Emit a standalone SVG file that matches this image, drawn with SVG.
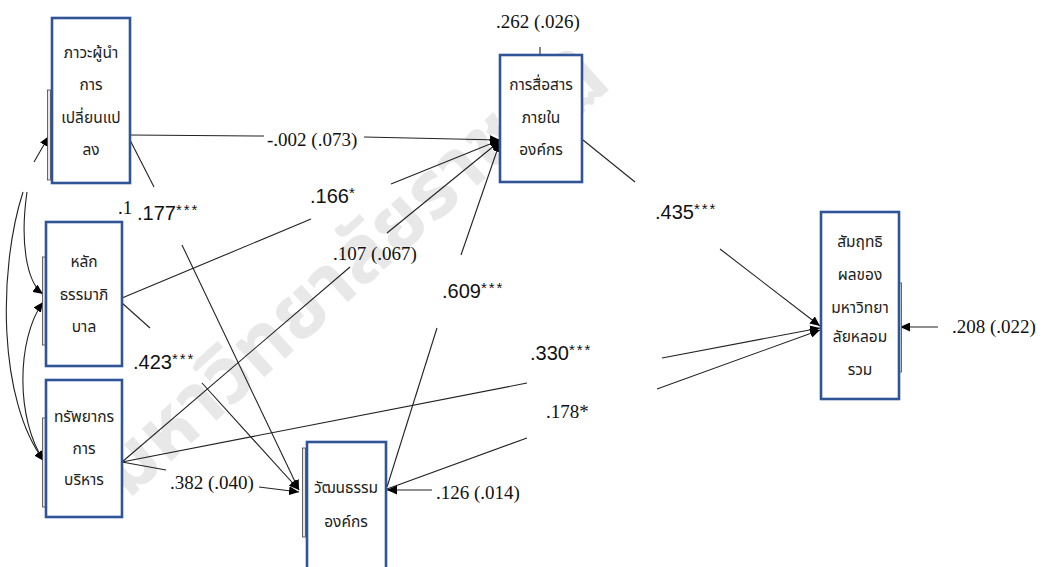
<svg xmlns="http://www.w3.org/2000/svg" width="1054" height="567" viewBox="0 0 1054 567">
<style>
.box{fill:#fff;stroke:#2f5597;stroke-width:2.6}
.bar{fill:#e6e6e6;stroke:#444;stroke-width:0.8}
.th{font-family:"Noto Sans Thai","Noto Sans","DejaVu Sans",sans-serif;font-size:15.5px;fill:#222;text-anchor:middle}
.ser{font-family:"Liberation Serif",serif;font-size:19px;fill:#111}
.sans{font-family:"Liberation Sans",sans-serif;font-size:20px;fill:#111}
.ast{font-size:15px;letter-spacing:2px}
.ln{fill:none;stroke:#222;stroke-width:1.1}
.wm{font-family:"Noto Sans Thai","Noto Sans","DejaVu Sans",sans-serif;font-size:80px;font-weight:bold;fill:#e8e8e8}
</style>
<defs>
<marker id="ah" markerUnits="userSpaceOnUse" markerWidth="11" markerHeight="9" refX="10" refY="4.5" orient="auto-start-reverse">
<path d="M0,0 L10,4.5 L0,9 z" fill="#000"/>
</marker>
</defs>
<rect width="1054" height="567" fill="#fff"/>
<text class="wm" transform="rotate(-42 128 500)" x="128" y="500">มหาวิทยาลัยราชภัฏ</text>

<g id="connectors">
<path class="ln" d="M130,135 L264,136"/><path class="ln" d="M364,137 L500,140" marker-end="url(#ah)"/>
<path class="ln" d="M122,298 L311,219"/><path class="ln" d="M391,184 L500,140" marker-end="url(#ah)"/>
<path class="ln" d="M122,462 L350,267"/><path class="ln" d="M387,233 L500,141" marker-end="url(#ah)"/>
<path class="ln" d="M387,487 L437,328"/><path class="ln" d="M461,255 L500,142" marker-end="url(#ah)"/>
<path class="ln" d="M130,140 L154,187"/><path class="ln" d="M182,245 L299,490" marker-end="url(#ah)"/>
<path class="ln" d="M122,303 L150,328"/><path class="ln" d="M202,383 L299,490" marker-end="url(#ah)"/>
<path class="ln" d="M122,462 L166,470"/><path class="ln" d="M259,487 L299,492" marker-end="url(#ah)"/>
<path class="ln" d="M122,462 L527,383"/><path class="ln" d="M662,358 L820,328" marker-end="url(#ah)"/>
<path class="ln" d="M387,489 L527,438"/><path class="ln" d="M657,389 L820,330" marker-end="url(#ah)"/>
<path class="ln" d="M583,140 L635,182"/><path class="ln" d="M720,249 L820,326" marker-end="url(#ah)"/>
<path class="ln" d="M432,490 L387,490" marker-end="url(#ah)"/>
<path class="ln" d="M540,47 L540,55"/>
<path class="ln" d="M938,327 L900,327" marker-end="url(#ah)"/>
<path class="ln" stroke-width="2" d="M34,162 L49,136" marker-end="url(#ah)"/>
<path class="ln" d="M27,192 C20,240 26,282 43,294" marker-end="url(#ah)"/>
<path class="ln" d="M23,192 C-2,270 -2,400 44,461" marker-end="url(#ah)"/>
<path class="ln" d="M43,302 C16,340 16,420 44,461" marker-start="url(#ah)" marker-end="url(#ah)"/>
</g>

<g id="n1">
<rect class="bar" x="47.5" y="90" width="3" height="90"/>
<rect class="box" x="52" y="18" width="78" height="165"/>
<text class="th" x="91" y="58">ภาวะผู้นำ</text>
<text class="th" x="91" y="90">การ</text>
<text class="th" x="91" y="123">เปลี่ยนแป</text>
<text class="th" x="91" y="155">ลง</text>
</g>
<g id="n2">
<rect class="bar" x="42.5" y="257" width="3" height="88"/>
<rect class="box" x="46" y="222" width="76" height="144"/>
<text class="th" x="84" y="267">หลัก</text>
<text class="th" x="84" y="300">ธรรมาภิ</text>
<text class="th" x="84" y="332">บาล</text>
</g>
<g id="n3">
<rect class="bar" x="42.5" y="418" width="3" height="89"/>
<rect class="box" x="46" y="380" width="76" height="137"/>
<text class="th" x="84" y="422">ทรัพยากร</text>
<text class="th" x="84" y="454">การ</text>
<text class="th" x="84" y="485">บริหาร</text>
</g>
<g id="n4">
<rect class="bar" x="302.5" y="448" width="3" height="89"/>
<rect class="box" x="307" y="442" width="79" height="135"/>
<text class="th" x="346" y="493">วัฒนธรรม</text>
<text class="th" x="346" y="527">องค์กร</text>
</g>
<g id="n5">
<rect class="box" x="500" y="55" width="82" height="127"/>
<text class="th" x="541" y="90">การสื่อสาร</text>
<text class="th" x="541" y="123">ภายใน</text>
<text class="th" x="541" y="155">องค์กร</text>
</g>
<g id="n6">
<rect class="bar" x="898.5" y="283" width="3" height="89"/>
<rect class="box" x="821" y="212" width="78" height="187"/>
<text class="th" x="860" y="247">สัมฤทธิ</text>
<text class="th" x="860" y="280">ผลของ</text>
<text class="th" x="860" y="313">มหาวิทยา</text>
<text class="th" x="860" y="342">ลัยหลอม</text>
<text class="th" x="860" y="375">รวม</text>
</g>

<g id="labels">
<text class="ser" x="267" y="146">-.002 (.073)</text>
<text class="sans" x="310" y="203">.166<tspan class="ast" dy="-5">*</tspan></text>
<text class="ser" x="333" y="260">.107 (.067)</text>
<text class="sans" x="442" y="298">.609<tspan class="ast" dy="-5">***</tspan></text>
<text class="ser" x="118" y="214" font-size="17">.1</text>
<text class="sans" x="137" y="220">.177<tspan class="ast" dy="-5">***</tspan></text>
<text class="sans" x="133" y="369">.423<tspan class="ast" dy="-5">***</tspan></text>
<text class="ser" x="170" y="489">.382 (.040)</text>
<text class="sans" x="530" y="360">.330<tspan class="ast" dy="-5">***</tspan></text>
<text class="ser" x="546" y="418">.178*</text>
<text class="sans" x="655" y="219">.435<tspan class="ast" dy="-5">***</tspan></text>
<text class="ser" x="436" y="499">.126 (.014)</text>
<text class="ser" x="496" y="28">.262 (.026)</text>
<text class="ser" x="952" y="333">.208 (.022)</text>
</g>
</svg>
